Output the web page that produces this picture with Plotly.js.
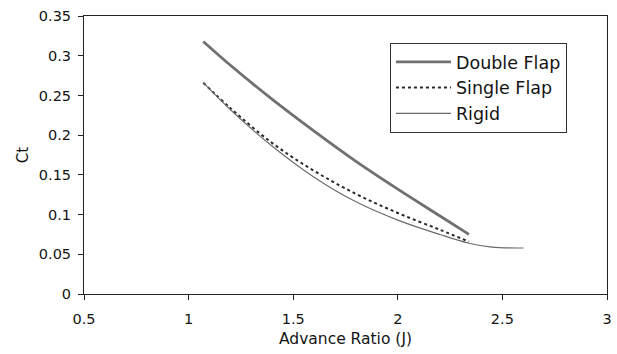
<!DOCTYPE html>
<html><head><meta charset="utf-8">
<script src="https://cdn.plot.ly/plotly-3.0.1.min.js"></script>
<style>html,body{margin:0;padding:0;background:#fff;}#chart{width:617px;height:354px;}</style>
</head><body><div id="chart"></div>
<script>
const doubleX = [1.07, 1.2, 1.4, 1.6, 1.8, 2.0, 2.2, 2.34];
const doubleY = [0.318, 0.288, 0.245, 0.205, 0.167, 0.132, 0.0985, 0.075];
const singleX = [1.07, 1.2, 1.4, 1.6, 1.8, 2.0, 2.2, 2.34];
const singleY = [0.266, 0.234, 0.190, 0.155, 0.126, 0.102, 0.081, 0.066];
const rigidX = [1.07, 1.2, 1.4, 1.6, 1.8, 2.0, 2.2, 2.34, 2.45, 2.6];
const rigidY = [0.266, 0.232, 0.186, 0.147, 0.116, 0.093, 0.075, 0.064, 0.059, 0.058];
const seriesNames = ["Double Flap", "Single Flap", "Rigid"];

const traces = [
  {x: doubleX, y: doubleY, name: seriesNames[0], mode: "lines", line: {color: "#707070", width: 2.8, shape: "spline"}},
  {x: singleX, y: singleY, name: seriesNames[1], mode: "lines", line: {color: "#2a2a2a", width: 2, dash: "dot", shape: "spline"}},
  {x: rigidX, y: rigidY, name: seriesNames[2], mode: "lines", line: {color: "#6a6a6a", width: 1.1, shape: "spline"}}
];
const fam = "DejaVu Sans, Arial, sans-serif";
const txt = "#141414";
const layout = {
  width: 617, height: 354,
  margin: {l: 84, r: 10, t: 16, b: 60},
  paper_bgcolor: "#fff", plot_bgcolor: "#fff",
  font: {family: fam, size: 14, color: txt},
  showlegend: true,
  legend: {x: 0.585, y: 0.903, xanchor: "left", yanchor: "top", bordercolor: "#333", borderwidth: 1,
           bgcolor: "#fff", font: {family: fam, size: 17.5, color: txt},
           itemwidth: 55},
  xaxis: {range: [0.5, 3], dtick: 0.5, tick0: 0.5, showgrid: false, zeroline: false,
          showline: true, linecolor: "#222", linewidth: 1, mirror: true,
          ticks: "outside", ticklen: 5, tickcolor: "#222", ticklabelstandoff: 7,
          tickfont: {family: fam, size: 14.5, color: txt},
          title: {text: "Advance Ratio (J)", font: {family: fam, size: 15.5, color: txt}, standoff: 6}},
  yaxis: {range: [0, 0.35], dtick: 0.05, showgrid: false, zeroline: false,
          showline: true, linecolor: "#222", linewidth: 1, mirror: true,
          ticks: "outside", ticklen: 5, tickcolor: "#222", ticklabelstandoff: 4,
          tickfont: {family: fam, size: 14.5, color: txt},
          title: {text: "Ct", font: {family: fam, size: 15, color: txt}, standoff: 6}}
};
Plotly.newPlot("chart", traces, layout, {staticPlot: true});
</script></body></html>
